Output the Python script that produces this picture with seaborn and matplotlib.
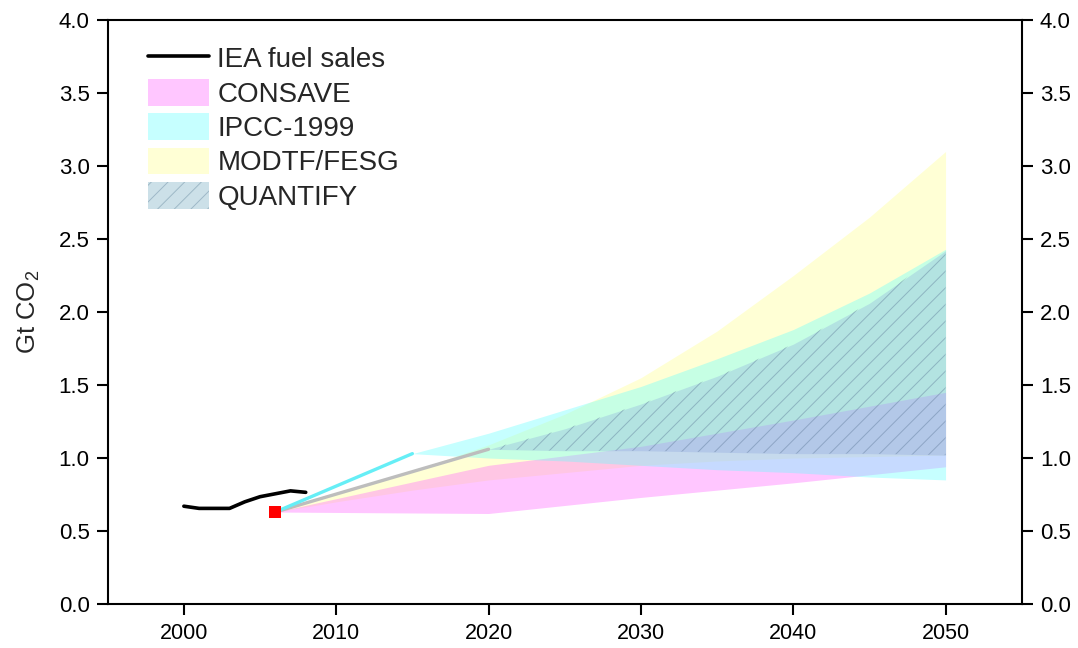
import matplotlib
matplotlib.use("Agg")
import matplotlib.pyplot as plt
from matplotlib.lines import Line2D
from matplotlib.patches import Patch
import pandas as pd
import seaborn as sns

# IEA fuel sales history (Gt CO2)
iea_years = [2000, 2001, 2002, 2003, 2004, 2005, 2006, 2007, 2008]
iea_co2 = [0.67, 0.655, 0.655, 0.655, 0.70, 0.735, 0.755, 0.775, 0.765]

# Base-year emissions
base_year = [2006]
base_co2 = [0.63]

# IPCC-1999: path to 2015, then range to 2050
ipcc_path_years = [2006, 2015]
ipcc_path_co2 = [0.63, 1.03]
ipcc_years = [2015, 2020, 2025, 2030, 2035, 2040, 2045, 2050]
ipcc_low = [1.03, 1.00, 0.98, 0.95, 0.92, 0.90, 0.87, 0.85]
ipcc_high = [1.03, 1.17, 1.33, 1.49, 1.68, 1.88, 2.13, 2.43]

# QUANTIFY: path to 2020, then range to 2050
quantify_path_years = [2006, 2020]
quantify_path_co2 = [0.63, 1.06]
quantify_years = [2020, 2025, 2030, 2035, 2040, 2045, 2050]
quantify_low = [1.06, 1.05, 1.05, 1.04, 1.03, 1.03, 1.02]
quantify_high = [1.06, 1.20, 1.37, 1.56, 1.78, 2.06, 2.42]

# CONSAVE range
consave_years = [2006, 2020, 2030, 2040, 2050]
consave_low = [0.63, 0.62, 0.73, 0.83, 0.94]
consave_high = [0.63, 0.95, 1.08, 1.26, 1.45]

# MODTF/FESG range
modtf_years = [2006, 2010, 2015, 2020, 2025, 2030, 2035, 2040, 2045, 2050]
modtf_low = [0.63, 0.70, 0.78, 0.85, 0.90, 0.95, 0.98, 1.00, 1.01, 1.02]
modtf_high = [0.63, 0.75, 0.91, 1.09, 1.30, 1.55, 1.87, 2.25, 2.65, 3.10]

x_ticks = [2000, 2010, 2020, 2030, 2040, 2050]
y_ticks = [0.0, 0.5, 1.0, 1.5, 2.0, 2.5, 3.0, 3.5, 4.0]

sns.set_theme(style="ticks")
plt.rcParams["font.family"] = ["Liberation Sans", "DejaVu Sans"]
plt.rcParams["mathtext.fontset"] = "custom"
plt.rcParams["mathtext.rm"] = "Liberation Sans"
plt.rcParams["mathtext.it"] = "Liberation Sans:italic"
plt.rcParams["hatch.linewidth"] = 0.7

YELLOW = (1.0, 1.0, 0.55, 0.36)
PINK = (1.0, 0.38, 1.0, 0.36)
CYAN = (0.38, 1.0, 1.0, 0.36)
QUANT = (0.50, 0.60, 0.86, 0.27)
HATCH = (0.35, 0.46, 0.58, 0.42)

fig = plt.figure(figsize=(10.78, 6.48), dpi=100)
ax = fig.add_axes([0.0999, 0.0679, 0.8479, 0.9011])

# scenario ranges
ax.fill_between(modtf_years, modtf_low, modtf_high, facecolor=YELLOW, linewidth=0)
ax.fill_between(consave_years, consave_low, consave_high, facecolor=PINK, linewidth=0)
ax.fill_between(ipcc_years, ipcc_low, ipcc_high, facecolor=CYAN, linewidth=0)
ax.fill_between(quantify_years, quantify_low, quantify_high, facecolor=QUANT, linewidth=0)
ax.fill_between(quantify_years, quantify_low, quantify_high, facecolor="none",
                edgecolor=HATCH, hatch="//", linewidth=0)

# paths and history
sns.lineplot(data=pd.DataFrame({"year": quantify_path_years, "co2": quantify_path_co2}),
             x="year", y="co2", color="#bdbdbd", linewidth=2.4, ax=ax)
sns.lineplot(data=pd.DataFrame({"year": ipcc_path_years, "co2": ipcc_path_co2}),
             x="year", y="co2", color="#66eef6", linewidth=2.4, ax=ax)
sns.lineplot(data=pd.DataFrame({"year": iea_years, "co2": iea_co2}),
             x="year", y="co2", color="black", linewidth=2.6, ax=ax)
sns.scatterplot(data=pd.DataFrame({"year": base_year, "co2": base_co2}),
                x="year", y="co2", marker="s", s=75, color="red",
                edgecolor="none", ax=ax, zorder=5)

ax.set_xlim(1995, 2055)
ax.set_ylim(0, 4)
ax.set_xticks(x_ticks)
ax.set_yticks(y_ticks)
ax.set_yticklabels([f"{v:.1f}" for v in y_ticks])
ax.set_xlabel("")
ax.set_ylabel("Gt CO$_2$", fontsize=18.5, labelpad=12)

for side in ["left", "right", "top", "bottom"]:
    ax.spines[side].set_visible(True)
    ax.spines[side].set_linewidth(1.5)
    ax.spines[side].set_color("black")

ax.tick_params(axis="y", which="major", left=True, right=True, labelleft=True,
               labelright=True, direction="out", length=8, width=1.5,
               labelsize=16, pad=5, colors="black")
ax.tick_params(axis="x", which="major", bottom=True, top=False, direction="out",
               length=8, width=1.5, labelsize=15.5, pad=6, colors="black")

handles = [
    Line2D([0], [0], color="black", linewidth=2.6),
    Patch(facecolor=PINK, linewidth=0),
    Patch(facecolor=CYAN, linewidth=0),
    Patch(facecolor=YELLOW, linewidth=0),
    Patch(facecolor=(0.80, 0.88, 0.91), edgecolor=(0.62, 0.72, 0.78), hatch="//", linewidth=0),
]
labels = ["IEA fuel sales", "CONSAVE", "IPCC-1999", "MODTF/FESG", "QUANTIFY"]
ax.legend(handles, labels, loc="upper left", bbox_to_anchor=(0.044, 0.958),
          frameon=False, fontsize=20, borderaxespad=0, borderpad=0,
          handlelength=2.2, handleheight=1.1, handletextpad=0.3, labelspacing=0.2)

fig.savefig("out.png", dpi=100, facecolor="white")
